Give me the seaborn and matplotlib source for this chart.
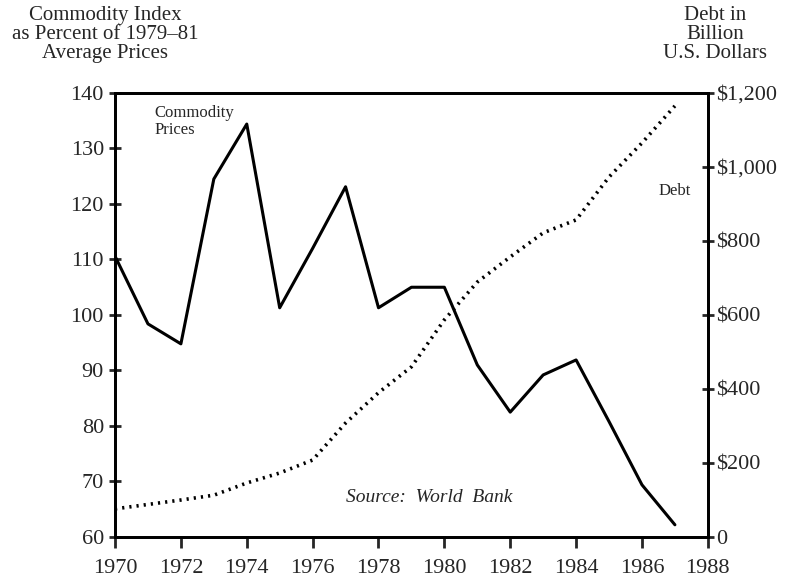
import numpy as np
import pandas as pd
import matplotlib
matplotlib.use("Agg")
import matplotlib.pyplot as plt
import seaborn as sns

# data
years = list(range(1970, 1988))
commodity = [110.6, 98.4, 94.8, 124.5, 134.4, 101.3, 112.0, 123.1, 101.3,
             105.0, 105.0, 91.0, 82.5, 89.2, 91.9, 80.8, 69.4, 62.2]
debt = [76, 88, 100, 113, 146, 173, 208, 308, 390, 460, 587, 689, 757,
        822, 857, 973, 1065, 1165]

left_ticks = [60, 70, 80, 90, 100, 110, 120, 130, 140]
right_ticks = [0, 200, 400, 600, 800, 1000, 1200]
right_labels = ["0", "$200", "$400", "$600", "$800", "$1,000", "$1,200"]
x_ticks = list(range(1970, 1989, 2))

df = pd.DataFrame({"year": years, "commodity": commodity, "debt": debt})

sns.set_theme(style="ticks")
plt.rcParams["font.family"] = ["Liberation Serif", "DejaVu Serif"]

fig = plt.figure(figsize=(7.9, 5.83), dpi=100)
ax = fig.add_axes([0.1456, 0.0789, 0.896 - 0.1456, 0.8405 - 0.0789])
ax2 = ax.twinx()

sns.lineplot(data=df, x="year", y="commodity", ax=ax, color="black", linewidth=2.2)
sns.lineplot(data=df, x="year", y="debt", ax=ax2, color="black", linewidth=2.6,
             linestyle=(0, (0.6, 1.4)))

ax.set_xlim(1970, 1988)
ax.set_ylim(60, 140)
ax2.set_ylim(0, 1200)
ax.set_xticks(x_ticks)
ax.set_yticks(left_ticks)
ax2.set_yticks(right_ticks)
ax2.set_yticklabels(right_labels)
ax.set_xlabel("")
ax.set_ylabel("")
ax2.set_ylabel("")

for a in (ax, ax2):
    for s in a.spines.values():
        s.set_visible(True)
        s.set_linewidth(2)
        s.set_color("black")
ax.tick_params(axis="x", direction="out", length=8, width=2, labelsize=16, pad=8)
ax.tick_params(axis="y", direction="inout", length=8, width=2, labelsize=16, pad=4)
ax2.tick_params(axis="y", direction="inout", length=8, width=2, labelsize=16, pad=2)

ax.text(1971.2, 137.8, "Commodity\nPrices", fontsize=12, va="top", ha="left",
        linespacing=1.1)
ax2.text(1986.5, 935, "Debt", fontsize=12, ha="left", va="center")
ax.text(1977.0, 67.2, "Source:  World  Bank", fontsize=14, style="italic",
        ha="left", va="center")

fig.text(0.133, 0.99, "Commodity Index\nas Percent of 1979\u201381\nAverage Prices",
         ha="center", va="top", fontsize=15, linespacing=1.0)
fig.text(0.905, 0.99, "Debt in\nBillion\nU.S. Dollars",
         ha="center", va="top", fontsize=15, linespacing=1.0)

fig.savefig("out.png", dpi=100)
